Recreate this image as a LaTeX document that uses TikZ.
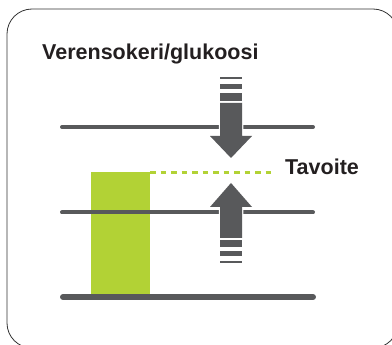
\documentclass[tikz,border=0pt]{standalone}
\usepackage{fontspec}
\setmainfont{Liberation Sans}
\definecolor{dgray}{HTML}{58595B}
\definecolor{lime}{HTML}{B2D235}
\definecolor{ink}{HTML}{231F20}
\begin{document}
\begin{tikzpicture}[x=1pt,y=-1pt,
  hline/.style={draw=dgray, line cap=round},
  arrowshape/.style={fill=dgray, preaction={draw=white, line width=2.5pt, line join=miter}},
  stripe/.style={fill=dgray},
  lbl/.style={font=\bfseries\fontsize{21.5}{26}\selectfont, text=ink, anchor=base west, inner sep=0pt}]
\useasboundingbox (0,0) rectangle (392,345);
\begin{scope}
\clip (0,0) rectangle (392,345);
\draw[draw=black!80, line width=0.8pt, rounded corners=25pt] (7,9) rectangle (398,348);
\end{scope}
% green bar and target line
\fill[lime] (91,172) rectangle (150,296);
\draw[lime, line width=3pt, dash pattern=on 5.5pt off 5pt] (150,173) -- (275,173);
% horizontal lines
\draw[hline, line width=4pt] (62,127) -- (313,127);
\draw[hline, line width=4pt] (62,212.5) -- (313,212.5);
\draw[hline, line width=6pt] (63,297) -- (313,297);
% down arrow
\fill[stripe] (220,77) rectangle (242,79.5);
\fill[stripe] (220,84) rectangle (242,89);
\fill[stripe] (220,93) rectangle (242,101);
\path[arrowshape] (220,103) -- (242,103) -- (242,136) -- (252,136) -- (231,158) -- (210,136) -- (220,136) -- cycle;
% up arrow
\path[arrowshape] (231,183) -- (252,207) -- (242,207) -- (242,238) -- (220,238) -- (220,207) -- (210,207) -- cycle;
\fill[stripe] (220,240) rectangle (242,247);
\fill[stripe] (220,251) rectangle (242,256);
\fill[stripe] (220,261) rectangle (242,263.5);
% labels
\node[lbl] (title) at (42,60) {Verensokeri/glukoosi};
\node[lbl] (goal) at (285,175) {Tavoite};
\end{tikzpicture}
\end{document}
